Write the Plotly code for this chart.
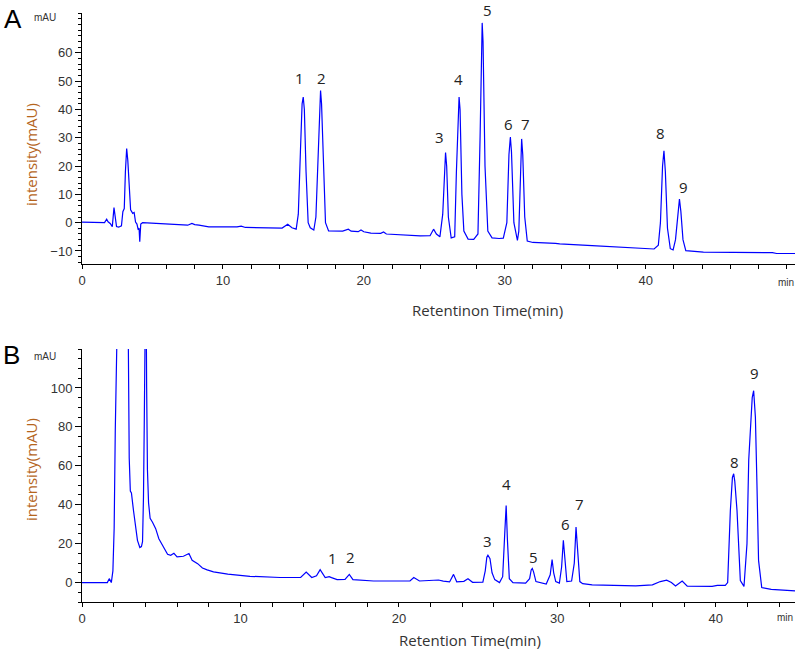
import plotly.graph_objects as go

# ---- chromatogram A (standard mix) ----
time_a = [0.0, 1.0, 1.6, 1.75, 1.85, 2.0, 2.15, 2.27, 2.35, 2.45, 2.6, 2.8, 2.9, 3.0, 3.08,
          3.17, 3.25, 3.33, 3.45, 3.6, 3.7, 3.8, 3.9, 3.98, 4.05, 4.1, 4.17, 4.3, 5.0, 5.9,
          6.4, 7.5, 7.8, 8.0, 8.3, 9.0, 11.0, 11.3, 11.6, 13.5, 14.2, 14.6, 14.9, 15.2,
          15.35, 15.5, 15.62, 15.7, 15.78, 15.9, 16.05, 16.2, 16.45,
          16.6, 16.75, 16.86, 16.93, 17.0, 17.12, 17.28, 17.5, 18.5, 18.9, 19.1, 19.6, 19.8,
          20.0, 20.5, 21.2, 21.4, 21.6, 22.9, 24.0, 24.7, 24.95, 25.15, 25.4,
          25.6, 25.72, 25.8, 25.88, 26.0, 26.2,
          26.45, 26.57, 26.7, 26.76, 26.83, 26.96, 27.1, 27.4, 27.8,
          28.1, 28.25, 28.35, 28.4, 28.46, 28.6, 28.8, 29.1, 29.6,
          29.9, 30.15, 30.3, 30.4, 30.48, 30.65, 30.9,
          31.0, 31.12, 31.2, 31.28, 31.42, 31.6, 32.0, 33.6, 33.9, 36.2, 38.5, 40.6,
          40.9, 41.05, 41.2, 41.3, 41.4, 41.55, 41.75, 41.95,
          42.12, 42.28, 42.4, 42.5, 42.65, 42.85, 44.0, 44.1, 49.0, 49.3, 50.6]
signal_a = [0.2, 0.1, 0.0, 1.2, 0.3, -0.3, -1.4, 5.3, 3.0, -1.4, -1.6, -1.1, 3.9, 5.0, 18.0,
            26.2, 22.0, 12.7, 4.5, 3.3, 3.6, 0.2, -0.5, -2.3, -2.0, -6.7, -0.5, 0.0, -0.2, -0.4,
            -0.8, -0.9, -0.3, -0.7, -0.9, -1.5, -1.5, -1.2, -1.7, -2.0, -1.9, -0.6, -1.8, -2.3,
            3.0, 25.0, 42.0, 44.4, 40.0, 18.0, 0.0, -1.8, -2.6,
            2.0, 25.0, 44.0, 46.7, 42.0, 20.0, 0.0, -2.9, -3.0, -2.3, -3.0, -3.2, -2.6,
            -3.2, -3.7, -3.8, -3.3, -4.0, -4.4, -4.7, -4.6, -2.3, -4.0, -5.0,
            3.0, 18.0, 24.8, 20.0, 2.0, -5.4,
            -5.0, 18.0, 42.0, 44.4, 40.0, 10.0, -3.0, -5.8, -5.9,
            -4.0, 30.0, 66.0, 70.6, 64.0, 20.0, -3.0, -5.4, -5.6,
            -5.5, 0.0, 24.0, 30.3, 25.0, 0.0, -6.3,
            -3.0, 22.0, 29.6, 24.0, 2.0, -6.5, -7.0, -7.3, -7.5, -8.1, -8.8, -9.3,
            -8.0, 0.0, 20.0, 25.4, 18.0, -2.0, -9.2, -9.6,
            -6.0, 4.0, 8.3, 4.0, -6.0, -9.9, -10.2, -10.4, -10.6, -10.9, -10.9]

# ---- chromatogram B (sample) ----
time_b = [0.0, 1.6, 1.72, 1.85, 1.95, 2.03, 2.1, 2.2, 2.5, 2.85, 2.92, 2.98, 3.05, 3.12,
          3.25, 3.4, 3.5, 3.65, 3.75, 3.82, 3.88, 3.93, 3.98, 4.03, 4.08, 4.13, 4.2, 4.3,
          4.45, 4.65, 4.85, 5.1, 5.4, 5.6, 5.8, 6.0, 6.4, 6.75, 6.95, 7.3, 7.6, 7.9, 8.3,
          9.2, 10.6, 12.5, 13.8, 14.15, 14.5, 14.8, 15.03, 15.35, 15.6, 15.75, 16.1, 16.6,
          16.87, 17.1, 18.4, 20.7, 20.94, 21.3, 22.3, 22.5, 22.8, 23.2, 23.45, 23.65, 24.1,
          24.36, 24.65, 25.3,
          25.45, 25.55, 25.62, 25.75, 25.88, 26.05, 26.35,
          26.55, 26.68, 26.77, 26.85, 26.97, 27.2, 28.0,
          28.25, 28.35, 28.42, 28.5, 28.65, 29.3,
          29.55, 29.67, 29.77, 29.9, 30.13,
          30.27, 30.38, 30.45, 30.6, 30.9,
          31.07, 31.18, 31.27, 31.42, 31.6, 32.2, 34.95, 35.4, 36.0, 36.5, 36.9, 37.2,
          37.46, 37.88, 38.2, 39.77, 40.1, 40.6,
          40.75, 40.92, 41.05, 41.13, 41.2, 41.34, 41.55, 41.78,
          41.97, 42.08, 42.3, 42.39, 42.5, 42.6, 42.7, 42.9, 43.5, 44.0, 45.0]
signal_b = [0.0, 0.0, 2.0, 0.0, 6.0, 28.0, 78.0, 200.0, 260.0, 200.0, 98.0, 64.0, 47.0, 46.0,
            37.0, 27.0, 21.7, 18.0, 18.5, 21.0, 44.0, 82.0, 160.0, 170.0, 100.0, 58.0, 41.0, 33.0,
            31.0, 27.7, 22.5, 18.5, 14.5, 14.0, 15.0, 13.2, 13.5, 14.9, 11.4, 9.7, 7.5, 6.5, 5.5,
            4.3, 3.2, 2.6, 2.6, 5.4, 2.6, 3.5, 6.6, 2.6, 3.0, 2.5, 1.5, 1.6,
            4.2, 1.5, 0.8, 0.8, 2.6, 0.8, 0.9, 1.3, 0.7, 0.3, 4.2, 0.4, 0.6,
            1.9, 0.1, 0.2,
            6.0, 13.0, 14.0, 12.3, 5.0, 1.5, 0.0,
            3.0, 25.0, 39.6, 22.0, 2.0, 0.0, -0.3,
            2.0, 6.5, 7.2, 5.5, 0.5, -0.8,
            4.0, 11.8, 5.0, 0.5, -0.3,
            8.0, 21.7, 15.0, 0.5, 0.8,
            10.0, 28.5, 18.0, 0.5, -0.6, -1.2, -1.7, -1.4, -1.2, 0.5, 1.2, 0.0,
            -1.8, 0.8, -1.9, -2.0, -1.5, -1.5,
            0.0, 37.0, 54.0, 55.9, 52.0, 37.0, 1.0, -2.0,
            20.0, 63.0, 95.0, 98.6, 85.0, 50.0, 11.4, -2.6, -3.5, -3.8, -4.3]

# numbered peaks (apex retention time, apex height)
peak_ids = ["1", "2", "3", "4", "5", "6", "7", "8", "9"]
peak_t_a = [15.7, 16.93, 25.8, 26.76, 28.4, 30.4, 31.2, 41.3, 42.4]
peak_v_a = [44.4, 46.7, 24.8, 44.4, 70.6, 30.3, 29.6, 25.4, 8.3]
peak_t_b = [15.7, 16.87, 25.62, 26.77, 28.42, 30.38, 31.18, 41.13, 42.39]
peak_v_b = [3.0, 4.2, 14.0, 39.6, 7.2, 21.7, 28.5, 55.9, 98.6]

xticks = [0, 10, 20, 30, 40]
yticks_a = [-10, 0, 10, 20, 30, 40, 50, 60]
yticks_b = [0, 20, 40, 60, 80, 100]

# label nudges in pixels (dx, dy up)
nudge_a = [(-4, 19), (1, 13), (-6, 15), (-1, 18), (5, 13), (-2, 13), (4, 15), (-3, 18), (4, 12)]
nudge_b = [(2, 19), (1, 17), (0, 14), (0, 21), (1, 12), (2, 16), (3, 23), (1, 12), (1, 18)]

LINE = "#0000ff"
TICKFONT = dict(family="Liberation Sans, Arial", size=13, color="#333333")
LABFONT = dict(family="Open Sans, Noto Sans", size=15, color="#222222")

fig = go.Figure()
fig.add_trace(go.Scatter(x=time_a, y=signal_a, mode="lines", xaxis="x", yaxis="y",
                         line=dict(color=LINE, width=1.2), showlegend=False))
fig.add_trace(go.Scatter(x=time_b, y=signal_b, mode="lines", xaxis="x2", yaxis="y2",
                         line=dict(color=LINE, width=1.2), showlegend=False))

axis_common = dict(showline=True, linecolor="black", linewidth=1, ticks="outside",
                   tickcolor="black", showgrid=False, zeroline=False, tickfont=TICKFONT)

fig.update_layout(
    width=798, height=659,
    margin=dict(l=82, r=3, t=13, b=57, autoexpand=False),
    plot_bgcolor="white", paper_bgcolor="white",
    xaxis=dict(domain=[0, 1], anchor="y", range=[0, 50.6], tickvals=xticks, ticklen=4,
               minor=dict(dtick=2, tick0=0, ticklen=4, ticks="outside", tickcolor="black"),
               **axis_common),
    yaxis=dict(domain=[0.5739, 1], anchor="x", range=[-14.6, 74.1], tickvals=yticks_a, ticklen=6,
               minor=dict(dtick=2, tick0=0, ticklen=3, ticks="outside", tickcolor="black"),
               **axis_common),
    xaxis2=dict(domain=[0, 1], anchor="y2", range=[0, 45], tickvals=xticks, ticklen=4,
                minor=dict(dtick=2, tick0=0, ticklen=4, ticks="outside", tickcolor="black"),
                **axis_common),
    yaxis2=dict(domain=[0, 0.4295], anchor="x2", range=[-10, 120], tickvals=yticks_b, ticklen=6,
                minor=dict(dtick=5, tick0=0, ticklen=3, ticks="outside", tickcolor="black"),
                **axis_common),
)

# peak numbers
for i, pid in enumerate(peak_ids):
    fig.add_annotation(x=peak_t_a[i], y=peak_v_a[i], xref="x", yref="y", text=pid,
                       showarrow=False, font=LABFONT, xshift=nudge_a[i][0], yshift=nudge_a[i][1])
    fig.add_annotation(x=peak_t_b[i], y=peak_v_b[i], xref="x2", yref="y2", text=pid,
                       showarrow=False, font=LABFONT, xshift=nudge_b[i][0], yshift=nudge_b[i][1])

# panel letters, units and axis titles (pixel centre -> paper coords)
def paper_text(txt, px, py, size, color="black", family="Liberation Sans, Arial", angle=0):
    fig.add_annotation(x=(px - 82) / 713, y=(602 - py) / 589, xref="paper", yref="paper",
                       xanchor="center", yanchor="middle",
                       text=txt, showarrow=False, textangle=angle,
                       font=dict(family=family, size=size, color=color))

paper_text("A", 13, 19, 26)
paper_text("B", 11, 355, 26)
paper_text("mAU", 45, 18, 10, color="#333333")
paper_text("mAU", 45, 356, 10, color="#333333")
paper_text("min", 786, 282, 10, color="#333333")
paper_text("min", 785, 617, 10, color="#333333")
paper_text("intensity(mAU)", 31, 155, 15, color="#b5651d", family="Open Sans, Noto Sans", angle=-90)
paper_text("intensity(mAU)", 31, 470, 15, color="#b5651d", family="Open Sans, Noto Sans", angle=-90)
paper_text("Retentinon Time(min)", 487, 310, 15, color="#333333", family="Open Sans, Noto Sans")
paper_text("Retention Time(min)", 470, 640, 15, color="#333333", family="Open Sans, Noto Sans")

# page body has a default 8px margin; remove it so the figure sits at the window origin
fig.write_html("out.html", config={"displayModeBar": False},
               post_script="document.body.style.margin='0px';")
